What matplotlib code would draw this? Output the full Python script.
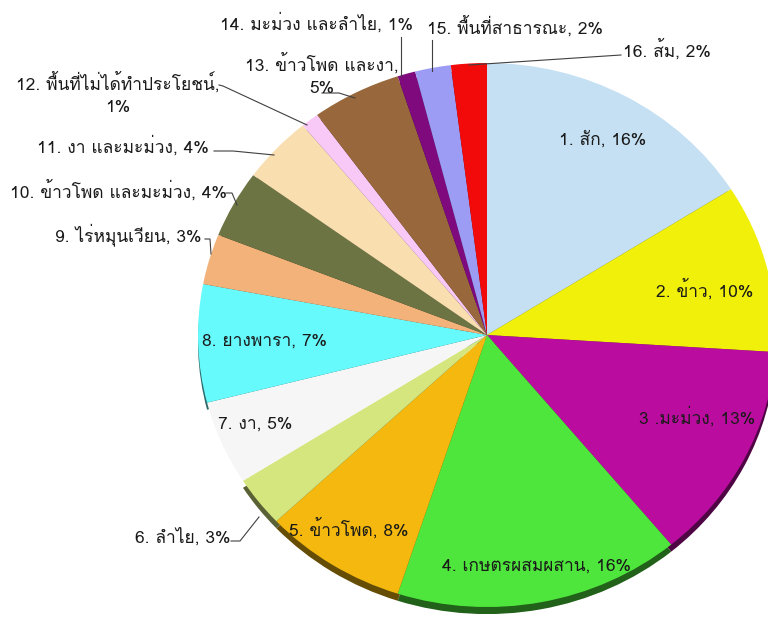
import matplotlib
matplotlib.use('Agg')
import numpy as np
import matplotlib.pyplot as plt
import matplotlib.colors as mcolors

# data (percent of area)
names = ["1. สัก", "2. ข้าว", "3 .มะม่วง", "4. เกษตรผสมผสาน", "5. ข้าวโพด",
         "6. ลำไย", "7. งา", "8. ยางพารา", "9. ไร่หมุนเวียน",
         "10. ข้าวโพด และมะม่วง", "11. งา และมะม่วง", "12. พื้นที่ไม่ได้ทำประโยชน์",
         "13. ข้าวโพด และงา", "14. มะม่วง และลำไย", "15. พื้นที่สาธารณะ", "16. ส้ม"]
percents = [16, 10, 13, 16, 8, 3, 5, 7, 3, 4, 4, 1, 5, 1, 2, 2]

colors = ["#c5e0f3", "#f0f00a", "#bb0ca0", "#4ee63c", "#f4b80e", "#d5e67f",
          "#f6f6f6", "#66fafc", "#f3b27a", "#6b7442", "#f9deb0", "#f8c8f6",
          "#98683c", "#7e0a7e", "#9c9cf4", "#f20a0a"]

# pixel geometry of the reference
W, H = 768, 628
cx, cy = 487, 335
rx, ry = 289, 272

fig = plt.figure(figsize=(W / 100, H / 100), dpi=100)
ax = fig.add_axes([0, 0, 1, 1])

# 3d edge: darker copy pushed down a little (the white slice shows no wall)
dark = [tuple(np.array(mcolors.to_rgb(c)) * 0.42) for c in colors]
dark[6] = (1, 1, 1, 0)
ax.pie(percents, colors=dark, startangle=90, counterclock=False,
       center=(0, -0.026), radius=1.0, frame=True,
       wedgeprops=dict(linewidth=0))
ax.pie(percents, colors=colors, startangle=90, counterclock=False,
       center=(0, 0), radius=1.0, frame=True,
       wedgeprops=dict(linewidth=0))
ax.set_aspect('auto')
ax.set_xlim(-cx / rx, (W - cx) / rx)
ax.set_ylim(-(H - cy) / ry, cy / ry)
ax.axis('off')

fam = ['Loma', 'DejaVu Sans']
fs = 12.5

def px(x, y):
    return ((x - cx) / rx, (cy - y) / ry)

labels = [n + ", " + str(p) + "%" for n, p in zip(names, percents)]
labels[11] = names[11] + ",\n" + str(percents[11]) + "%"
labels[12] = names[12] + ",\n" + str(percents[12]) + "%"

# label centres in reference pixels
label_pos = [(603, 140), (705, 290), (697, 417), (537, 567), (349, 529),
             (183, 537), (255, 425), (264, 342), (128, 235), (118, 191),
             (123, 146), (118, 94), (322, 75), (316, 23), (515, 27), (667, 50)]

for i, (t, (x, y)) in enumerate(zip(labels, label_pos)):
    ax.text(*px(x, y), t, ha='center', va='center', fontsize=fs,
            family=fam, color='#1a1a1a', linespacing=1.6)

# leader lines for the outside labels
leaders = [
    [(231, 541), (240, 541), (259, 517)],
    [(205, 239), (210, 239), (211, 254)],
    [(226, 193), (232, 193), (237, 205)],
    [(214, 151), (233, 151), (274, 155)],
    [(219, 85), (223, 86), (307, 125)],
    [(322, 93), (339, 93), (355, 98)],
    [(401, 37), (401, 76)],
    [(432, 40), (432, 71)],
    [(621, 55), (469, 65)],
]
for pts in leaders:
    xs, ys = zip(*[px(x, y) for x, y in pts])
    ax.plot(xs, ys, color='#404040', lw=0.8)

fig.savefig('out.png', dpi=100)
